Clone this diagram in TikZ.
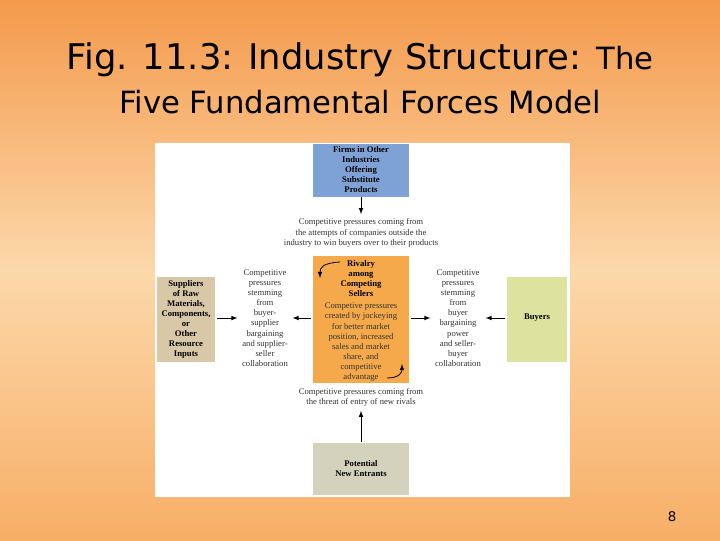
\documentclass[tikz,border=0pt]{standalone}
\usepackage{fontspec}
\setmainfont{Liberation Serif}
\newfontfamily\titlefont{DejaVu Sans}
\usetikzlibrary{positioning}
\definecolor{bgtop}{HTML}{F49A4C}
\definecolor{bgmid}{HTML}{FCD8AA}
\definecolor{bgbot}{HTML}{F7AE66}
\definecolor{subblue}{HTML}{7FA2D6}
\definecolor{suptan}{HTML}{D8C8A8}
\definecolor{rivorange}{HTML}{F5A94A}
\definecolor{buygreen}{HTML}{DDE29F}
\definecolor{entgrey}{HTML}{D4D2BC}
\tikzset{
  force/.style={minimum width=#1, align=center, font=\fontsize{6.5}{7.5}\selectfont\bfseries, inner sep=1pt},
  pressure/.style={align=center, font=\fontsize{6.5}{7.6}\selectfont, text=black!80},
  push/.style={->, >=latex, line width=0.6pt}
}
\begin{document}
\begin{tikzpicture}[x=0.75pt,y=-0.75pt]
\useasboundingbox (0,0) rectangle (720,540);
\shade[top color=bgtop, bottom color=bgbot, middle color=bgmid] (0,0) rectangle (720,540);
\node[font=\titlefont\fontsize{26.5}{30}\selectfont] (title1) at (360,60) {Fig. 11.3: Industry Structure: {\fontsize{23}{26}\selectfont The}};
\node[font=\titlefont\fontsize{23}{26}\selectfont] (title2) at (360,102) {Five Fundamental Forces Model};
\node[font=\titlefont\fontsize{10}{12}\selectfont] (pagenum) at (672,517) {8};

\fill[white] (155,143) rectangle (570,497);
\fill[subblue] (313,144) rectangle (409,197);
\fill[suptan] (157,277) rectangle (215,362);
\fill[rivorange] (313,256) rectangle (409,383);
\fill[buygreen] (507,277) rectangle (567,362);
\fill[entgrey] (313,443) rectangle (409,495);

\node[force=90pt] (subs) at (361,170) {Firms in Other\\Industries\\Offering\\Substitute\\Products};
\node[force=50pt] (supp) at (186,319) {Suppliers\\of Raw\\Materials,\\Components,\\or\\Other\\Resource\\Inputs};
\node[force=50pt] (buy) at (537,318) {Buyers};
\node[force=90pt] (entr) at (361,469) {Potential\\New Entrants};
\node[force=90pt, anchor=north] (riv) at (361,259) {Rivalry\\among\\Competing\\Sellers};
\node[pressure, below=0pt of riv] (rivtxt) {Competive pressures\\created by jockeying\\for better market\\position, increased\\sales and market\\share, and\\competitive\\advantage};

\node[pressure] (subtxt) at (361,233) {Competitive pressures coming from\\the attempts of companies outside the\\industry to win buyers over to their products};
\node[pressure] (suptxt) at (265,318) {Competitive\\pressures\\stemming\\from\\buyer-\\supplier\\bargaining\\and supplier-\\seller\\collaboration};
\node[pressure] (buytxt) at (458,318) {Competitive\\pressures\\stemming\\from\\buyer\\bargaining\\power\\and seller-\\buyer\\collaboration};
\node[pressure] (enttxt) at (361,397) {Competitive pressures coming from\\the threat of entry of new rivals};

\coordinate (rivL) at (311,318);
\coordinate (rivR) at (411,318);
\draw[push] (361,197) -- (subtxt.north);
\draw[push] (217,318) -- (suptxt.west);
\draw[push] (rivL) -- (suptxt.east);
\draw[push] (rivR) -- (buytxt.west);
\draw[push] (505,318) -- (buytxt.east);
\draw[push] (361,442) -- (enttxt.south);
\draw[push] (340,262) .. controls (322,263) and (320,268) .. (320,278);
\draw[push] (387,378) .. controls (400,378) and (402,372) .. (402,364);
\end{tikzpicture}
\end{document}
